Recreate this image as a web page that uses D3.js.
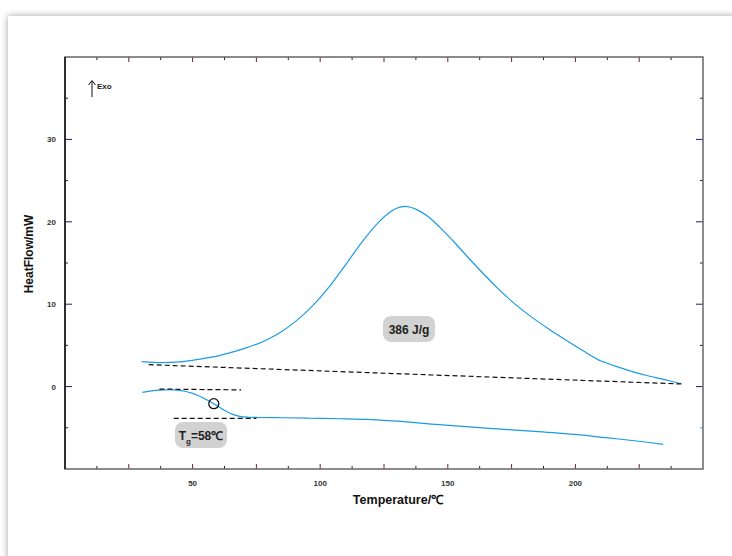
<!DOCTYPE html>
<html>
<head>
<meta charset="utf-8">
<script src="https://cdn.jsdelivr.net/npm/d3@7"></script>
<style>
  body { margin: 0; background: #fff; overflow: hidden; }
  .card { position: absolute; left: 8px; top: 16px; width: 800px; height: 700px;
          background: #fff; box-shadow: 0 0 7px rgba(0,0,0,0.38); }
  svg { position: absolute; left: 0; top: 0; font-family: "Liberation Sans", Arial, sans-serif; }
</style>
</head>
<body>
<div class="card"></div>
<div id="chart"></div>
<script>
// exotherm (curing) curve
const exoT  = [30, 38, 45, 51, 58, 64.5, 71, 77.5, 84, 90.5, 97, 103.5, 110, 116.5, 123, 127, 130, 132.5, 135, 138, 142, 147, 152, 157, 163, 170, 176, 183, 190, 196, 203, 210, 211.5, 216, 222, 228, 235, 241.5];
const exoHF = [3.02, 2.9, 3.0, 3.25, 3.6, 4.1, 4.7, 5.45, 6.5, 7.95, 9.8, 12.1, 14.8, 17.6, 20.0, 21.1, 21.65, 21.85, 21.8, 21.45, 20.7, 19.3, 17.7, 16.0, 14.0, 11.8, 10.1, 8.4, 6.9, 5.7, 4.35, 3.1, 2.95, 2.45, 1.85, 1.35, 0.85, 0.35];
// glass transition curve
const tgT  = [30.3, 34, 37, 41, 44, 47, 50, 53, 55.5, 58.3, 61, 63.5, 66, 68.5, 72, 76, 85, 96, 108, 118, 130, 146.5, 165, 185.5, 200, 212, 224, 234.4];
const tgHF = [-0.7, -0.52, -0.43, -0.38, -0.42, -0.56, -0.82, -1.2, -1.6, -2.07, -2.6, -3.05, -3.4, -3.62, -3.72, -3.75, -3.78, -3.84, -3.9, -3.98, -4.2, -4.62, -5.05, -5.47, -5.8, -6.2, -6.6, -7.0];

const baseline = [[32.8, 2.66], [241.5, 0.32]];
const tangentUp = [[37, -0.3], [69, -0.4]];
const tangentLow = [[42.6, -3.85], [75, -3.85]];
const tgPoint = [58.3, -2.07];

const xLabels = [50, 100, 150, 200];
const yLabels = [0, 10, 20, 30];

const W = 732, H = 556;
const L = 65, R = 703, T = 57, B = 469;

const svg = d3.select("#chart").append("svg").attr("width", W).attr("height", H);

const x = d3.scaleLinear().domain([0, 250]).range([L, R]);
const y = d3.scaleLinear().domain([-10, 40]).range([B, T]);

// ticks (all pointing inward)
const g = svg.append("g");
d3.range(12.5, 250, 12.5).forEach(v => {
  const major = v % 25 === 0;
  const len = major ? 5 : 3;
  const col = major ? "#7a1f1f" : "#222";
  g.append("line").attr("x1", x(v)).attr("x2", x(v)).attr("y1", B).attr("y2", B - len).attr("stroke", col).attr("stroke-width", 1);
  g.append("line").attr("x1", x(v)).attr("x2", x(v)).attr("y1", T).attr("y2", T + len).attr("stroke", col).attr("stroke-width", 1);
});
d3.range(-5, 40, 5).forEach(v => {
  const major = v % 10 === 0;
  const len = major ? 7 : 3;
  const col = major ? "#1d1d66" : "#222";
  g.append("line").attr("x1", L).attr("x2", L + len).attr("y1", y(v)).attr("y2", y(v)).attr("stroke", col).attr("stroke-width", 1);
  g.append("line").attr("x1", R).attr("x2", R - len).attr("y1", y(v)).attr("y2", y(v))
    .attr("stroke", v === -5 ? "#3aa8e8" : col).attr("stroke-width", 1);
});

// frame
svg.append("rect").attr("x", L).attr("y", T).attr("width", R - L).attr("height", B - T)
  .attr("fill", "none").attr("stroke", "#666").attr("stroke-width", 1.5);
svg.append("line").attr("x1", L).attr("x2", L).attr("y1", T).attr("y2", B).attr("stroke", "#111").attr("stroke-width", 1.5);

// tick labels
svg.selectAll(".xl").data(xLabels).enter().append("text")
  .attr("x", d => x(d)).attr("y", 486).attr("text-anchor", "middle")
  .attr("font-size", 8).attr("font-weight", "bold").attr("fill", "#333").text(d => d);
svg.selectAll(".yl").data(yLabels).enter().append("text")
  .attr("x", 56).attr("y", d => y(d) + 3).attr("text-anchor", "end")
  .attr("font-size", 8).attr("font-weight", "bold").attr("fill", "#333").text(d => d);

// axis titles
svg.append("text").attr("x", 398).attr("y", 504).attr("text-anchor", "middle")
  .attr("font-size", 12.5).attr("font-weight", "bold").attr("fill", "#111").text("Temperature/℃");
svg.append("text").attr("transform", "translate(33,254) rotate(-90)").attr("text-anchor", "middle")
  .attr("font-size", 12).attr("font-weight", "bold").attr("fill", "#111").text("HeatFlow/mW");

// Exo arrow
svg.append("line").attr("x1", 92).attr("x2", 92).attr("y1", 97).attr("y2", 81).attr("stroke", "#111").attr("stroke-width", 1);
svg.append("path").attr("d", "M88.5,85 L92,80.5 L95.5,85").attr("fill", "none").attr("stroke", "#111").attr("stroke-width", 1);
svg.append("text").attr("x", 97).attr("y", 89).attr("font-size", 8).attr("font-weight", "bold").attr("fill", "#222").text("Exo");

// curves
const line = d3.line().x(d => x(d[0])).y(d => y(d[1])).curve(d3.curveCatmullRom.alpha(0.5));
svg.append("path").attr("d", line(exoT.map((t, i) => [t, exoHF[i]])))
  .attr("fill", "none").attr("stroke", "#1a9be6").attr("stroke-width", 1.2);
svg.append("path").attr("d", line(tgT.map((t, i) => [t, tgHF[i]])))
  .attr("fill", "none").attr("stroke", "#1a9be6").attr("stroke-width", 1.2);

// dashed construction lines
const straight = d3.line().x(d => x(d[0])).y(d => y(d[1]));
[baseline, tangentUp, tangentLow].forEach(seg => {
  svg.append("path").attr("d", straight(seg)).attr("fill", "none")
    .attr("stroke", "#111").attr("stroke-width", 1.2).attr("stroke-dasharray", "5,3");
});

svg.append("circle").attr("cx", x(tgPoint[0])).attr("cy", y(tgPoint[1])).attr("r", 5)
  .attr("fill", "none").attr("stroke", "#111").attr("stroke-width", 1.3);

// annotation boxes
function box(cx, cy, w, h) {
  svg.append("rect").attr("x", cx - w / 2).attr("y", cy - h / 2).attr("width", w).attr("height", h)
    .attr("rx", 8).attr("fill", "#d2d2d2");
}
box(409, 329, 52, 26);
svg.append("text").attr("x", 409).attr("y", 334).attr("text-anchor", "middle")
  .attr("font-size", 12).attr("font-weight", "bold").attr("fill", "#222").text("386 J/g");

box(201, 435, 52, 26);
const tg = svg.append("text").attr("x", 201).attr("y", 440).attr("text-anchor", "middle")
  .attr("font-size", 12).attr("font-weight", "bold").attr("fill", "#222");
tg.append("tspan").text("T");
tg.append("tspan").attr("font-size", 8).attr("dy", 4).text("g");
tg.append("tspan").attr("dy", -4).text("=58℃");
</script>
</body>
</html>
